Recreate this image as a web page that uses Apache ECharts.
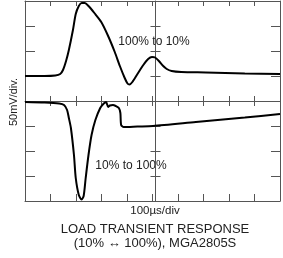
<!DOCTYPE html>
<html>
<head>
    <meta charset="UTF-8">
    <title>Load transient response</title>
    <style type="text/css">
        body { margin: 0; background: #fff; }
        #mychart { width: 283px; height: 258px; }
    </style>
</head>
<body>
<div id='mychart'></div>
<script src='https://cdn.jsdelivr.net/npm/echarts@6/dist/echarts.min.js'></script>
<script>
    // 100% -> 10% step (upper trace), time in us, voltage in mV (display offset)
    var downTime = [0, 77, 119, 138, 149, 161, 172, 188, 199, 211, 222, 234, 249, 272, 299, 326, 352, 372, 391, 402, 410, 421, 441, 464, 483, 498, 510, 525, 540, 556, 575, 613, 709, 862, 1000];
    var downMv   = [50, 50, 51, 54, 62, 80, 102, 142, 174, 190, 196, 196, 190, 176, 158, 130, 98, 70, 46, 35, 33, 38, 54, 72, 84, 88, 87, 80, 71, 64, 60, 58, 57, 55, 54];

    // 10% -> 100% step (lower trace)
    var upTime = [0, 77, 134, 153, 165, 172, 180, 192, 199, 211, 222, 230, 238, 249, 261, 276, 295, 307, 318, 326, 333, 345, 356, 368, 374, 377, 387, 441, 502, 670, 862, 1000];
    var upMv   = [-2, -3, -5, -8, -18, -34, -54, -108, -154, -188, -197, -190, -154, -108, -68, -38, -14, -6, -2, -12, -9, -8, -10, -14, -24, -48, -52, -51, -50, -42, -33, -26];

    var font = "'Liberation Sans', Arial, sans-serif";
    var frameColor = '#555';

    function pairs(xs, ys) {
        return xs.map(function (x, i) { return [x, ys[i]]; });
    }

    // labels kept on (empty text) so the ticks get built
    var noText = { show: true, formatter: function () { return ''; }, margin: 0, fontSize: 1 };

    function xAx(pos, offset, inside, len, showLine) {
        return {
            type: 'value', min: 0, max: 1000, interval: 100,
            position: pos, offset: offset,
            axisLine: { show: showLine, onZero: false, lineStyle: { color: frameColor, width: 1 } },
            axisTick: { show: true, inside: inside, length: len, lineStyle: { color: frameColor, width: 1 } },
            axisLabel: noText,
            splitLine: { show: false }
        };
    }

    function yAx(pos, offset, inside, len, showLine) {
        return {
            type: 'value', min: -200, max: 200, interval: 50,
            position: pos, offset: offset,
            axisLine: { show: showLine, onZero: false, lineStyle: { color: frameColor, width: 1 } },
            axisTick: { show: true, inside: inside, length: len, lineStyle: { color: frameColor, width: 1 } },
            axisLabel: noText,
            splitLine: { show: false }
        };
    }

    var mychart = echarts.init(document.getElementById('mychart'));

    mychart.setOption({
        backgroundColor: '#fff',
        animation: false,
        grid: { left: 25, top: 1, right: -3, bottom: 57 },
        xAxis: [
            xAx('bottom', 0, true, 7, true),
            xAx('top', 0, true, 5, true),
            xAx('top', -100, true, 5, true),
            xAx('top', -100, false, 5, false)
        ],
        yAxis: [
            yAx('left', 0, true, 10, true),
            yAx('right', 0, true, 9, true),
            yAx('left', -130.5, true, 5, true),
            yAx('left', -130.5, false, 5, false)
        ],
        series: [
            {
                type: 'line', name: '100% to 10%',
                data: pairs(downTime, downMv),
                showSymbol: false, smooth: 0.25,
                lineStyle: { color: '#000', width: 2 }
            },
            {
                type: 'line', name: '10% to 100%',
                data: pairs(upTime, upMv),
                showSymbol: false, smooth: 0.25,
                lineStyle: { color: '#000', width: 2 }
            }
        ],
        graphic: [
            { type: 'text', style: { text: '100% to 10%', x: 154, y: 42, textAlign: 'center', textVerticalAlign: 'middle', font: '12px ' + font, fill: '#222' } },
            { type: 'text', style: { text: '10% to 100%', x: 131, y: 166, textAlign: 'center', textVerticalAlign: 'middle', font: '12px ' + font, fill: '#222' } },
            { type: 'text', style: { text: '100µs/div', x: 155, y: 211, textAlign: 'center', textVerticalAlign: 'middle', font: '11.5px ' + font, fill: '#222' } },
            { type: 'text', style: { text: 'LOAD TRANSIENT RESPONSE', x: 155, y: 229, textAlign: 'center', textVerticalAlign: 'middle', font: '13px ' + font, fill: '#222' } },
            { type: 'text', style: { text: '(10% \u2194 100%), MGA2805S', x: 155, y: 243, textAlign: 'center', textVerticalAlign: 'middle', font: '13px ' + font, fill: '#222' } },
            { type: 'text', x: 14, y: 102, rotation: Math.PI / 2, style: { text: '50mV/div.', x: 0, y: 0, textAlign: 'center', textVerticalAlign: 'middle', font: '11px ' + font, fill: '#222' } }
        ]
    });
</script>
</body>
</html>
